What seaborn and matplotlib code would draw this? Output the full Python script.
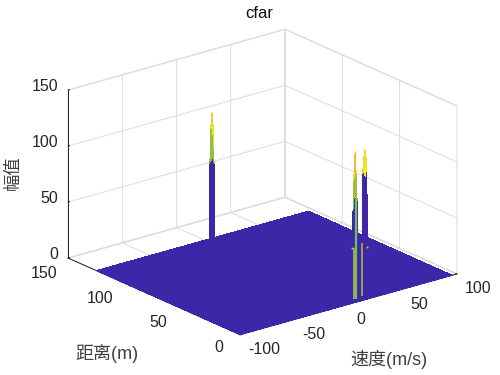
import numpy as np
import matplotlib
matplotlib.use("Agg")
import matplotlib.pyplot as plt
from mpl_toolkits.mplot3d import proj3d
import seaborn as sns

sns.set_style("white")
plt.rcParams['font.family'] = ['Liberation Sans', 'Noto Sans CJK SC', 'DejaVu Sans']
plt.rcParams['axes.unicode_minus'] = False

title = "cfar"
x_label = "速度(m/s)"
y_label = "距离(m)"
z_label = "幅值"
x_ticks = [-100, -50, 0, 50, 100]
y_ticks = [0, 50, 100, 150]
z_ticks = [0, 50, 100, 150]
z_max = 132.0
x_start, x_end, x_step = -100.0, 96.5, 0.75
y_start, y_end, y_step = 0.0, 126.0, 0.5

# detected targets: lower corner (speed, range) and amplitudes, rows along range
spike1_origin = (-20.5, 100.0)
spike1_z = [[88, 92, 92, 85],
            [90, 118, 120, 98],
            [92, 124, 130, 122],
            [85, 116, 126, 110]]
spike2_origin = (9.5, 3.5)
spike2_z = [[92, 93, 92, 88],
            [90, 112, 122, 92],
            [88, 124, 131, 110],
            [80, 105, 118, 90]]
spike3_origin = (20.0, 5.0)
spike3_z = [[120, 124, 122, 112],
            [122, 122, 125, 110],
            [118, 124, 130, 112],
            [108, 112, 114, 105]]

# single stray cells seen in front of the two near targets
stem_x = [11.3, 10.4, 18.8]
stem_y = [4.1, 4.6, 5.6]
stem_z = [89.0, 45.0, 47.0]
stem_colors = ["#6CC45A", "#C8C832", "#B8C030"]
stem_widths = [1.6, 1.1, 1.1]
dot_x = [7.7, 24.0]
dot_y = [4.2, 6.5]
dot_z = [46.0, 42.0]

parula_anchors = ["#3E26A8", "#4367FD", "#2C96EF", "#18B5C5", "#47C67E", "#A7BD3A", "#F4BA3A", "#F9FB15"]
cmap = sns.blend_palette(parula_anchors, as_cmap=True)

xs = np.arange(x_start, x_end, x_step)
ys = np.arange(y_start, y_end, y_step)
X, Y = np.meshgrid(xs, ys)
Z = np.zeros_like(X)
for (ox, oy), table in ((spike1_origin, spike1_z), (spike2_origin, spike2_z), (spike3_origin, spike3_z)):
    r0 = int(round((oy - y_start) / y_step))
    c0 = int(round((ox - x_start) / x_step))
    t = np.array(table, dtype=float)
    Z[r0:r0 + t.shape[0], c0:c0 + t.shape[1]] = t

fig = plt.figure(figsize=(5, 3.75), dpi=100, facecolor="white")
W = 480.0
ax = fig.add_axes([(262.5 - 0.5135 * W) / 500, (193 - 0.5135 * W) / 375, W / 500, W / 375],
                  projection="3d", proj_type="ortho", facecolor="white")
ax.computed_zorder = False
ax.view_init(elev=20.7, azim=-128.4)
ax.set_box_aspect((1, 1, 0.649), zoom=418.0 / W)

ax.plot_surface(X, Y, Z, facecolors=cmap(np.clip(Z / z_max, 0, 1)), rstride=1, cstride=1,
                shade=False, antialiased=False, linewidth=0, zsort="max", zorder=2)
for sx, sy, sz, sc, sw in zip(stem_x, stem_y, stem_z, stem_colors, stem_widths):
    ax.plot([sx, sx], [sy, sy], [0, sz], color=sc, linewidth=sw, solid_capstyle="butt", zorder=3)
ax.plot(dot_x, dot_y, dot_z, linestyle="none", marker="s", markersize=1.3,
        markeredgewidth=0, color="#C8C832", zorder=3)

ax.set_xlim(-100, 100, view_margin=0)
ax.set_ylim(0, 150, view_margin=0)
ax.set_zlim(0, 150, view_margin=0)
ax.set_xticks(x_ticks)
ax.set_yticks(y_ticks)
ax.set_zticks(z_ticks)
ax.set_xticklabels([])
ax.set_yticklabels([])
ax.set_zticklabels([])
ink = "#262626"
label_ink = "#404040"
for axis in (ax.xaxis, ax.yaxis, ax.zaxis):
    axis.set_pane_color((1, 1, 1, 1))
    axis.pane.set_edgecolor("#e4e4e4")
    axis.line.set_color("#222222")
    axis.line.set_linewidth(0.7)
    axis._axinfo["grid"].update(color="#dcdcdc", linewidth=0.7)
    axis._axinfo["tick"].update(inward_factor=0.0, outward_factor=0.08)
ax.tick_params(color="#222222", width=0.6)

proj = ax.get_proj()


def tick_text(value, x, y, z, dx, dy, ha):
    px, py, _ = proj3d.proj_transform(x, y, z, proj)
    ax.annotate(str(value), xy=(px, py), xycoords="data", xytext=(dx, dy),
                textcoords="offset pixels", ha=ha, va="center", fontsize=11.5,
                color=ink, annotation_clip=False)


for v in x_ticks:
    tick_text(v, v, 0, 0, 8, -15, "left")
for v, dx, dy in zip(y_ticks, [-17, -16, -12, -11], [-13, -13.5, -15, -15]):
    tick_text(v, -100, v, 0, dx, dy, "right")
for v in z_ticks:
    tick_text(v, -100, 150, v, -10, 4, "right")

fig.text(259 / 500, 1 - 14 / 375, title, ha="center", va="center", fontsize=12, color="#111111")
fig.text(107 / 500, 1 - 354 / 375, y_label, ha="center", va="center", fontsize=13, color=label_ink)
fig.text(389 / 500, 1 - 359 / 375, x_label, ha="center", va="center", fontsize=13, color=label_ink)
fig.text(13 / 500, 1 - 173 / 375, z_label, ha="center", va="center", rotation=90, fontsize=12.5, color=label_ink)

fig.savefig("out.png", dpi=100)
